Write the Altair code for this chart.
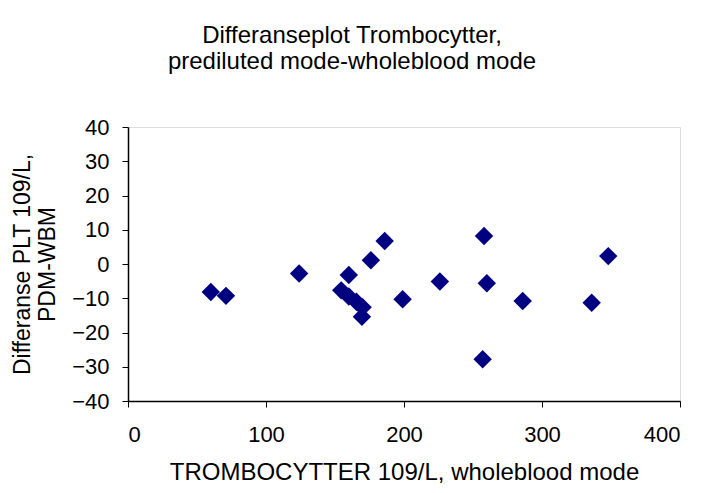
import altair as alt
import pandas as pd

# Values
plt_wbm = [60, 71, 124, 154.5, 160, 160, 165.5, 170, 169.5, 176, 186, 199,
           226, 258, 260, 257, 286, 336, 348]
diff_pdm_wbm = [-8.2, -9.3, -2.8, -7.7, -3.2, -9.5, -11.0, -12.6, -15.4, 1.1, 6.7, -10.3,
                -5.1, 8.2, -5.6, -27.8, -10.8, -11.3, 2.3]
x_ticks = [0, 100, 200, 300, 400]
y_ticks = [-40, -30, -20, -10, 0, 10, 20, 30, 40]

df = pd.DataFrame({"x": plt_wbm, "y": diff_pdm_wbm})

FONT = "Liberation Sans"

points = alt.Chart(df).mark_point(
    shape="diamond", filled=True, size=340, color="#000080", opacity=1
).encode(
    x=alt.X("x:Q",
            scale=alt.Scale(domain=[0, 400], nice=False, zero=False),
            axis=alt.Axis(values=x_ticks, title="TROMBOCYTTER 109/L, wholeblood mode",
                          grid=False, domainColor="#000000", domainWidth=1.5,
                          tickColor="#000000", tickSize=6, labelPadding=17,
                          labelFontSize=22, titleFontSize=24, titlePadding=15,
                          labelFont=FONT, titleFont=FONT, titleFontWeight="normal",
                          labelColor="#000000", titleColor="#000000")),
    y=alt.Y("y:Q",
            scale=alt.Scale(domain=[-40, 40], nice=False, zero=False),
            axis=alt.Axis(values=y_ticks, title=["Differanse PLT 109/L,", "PDM-WBM"],
                          grid=False, domainColor="#000000", domainWidth=1.5,
                          tickColor="#000000", tickSize=6, labelPadding=13,
                          labelFontSize=22, titleFontSize=23, titlePadding=12,
                          titleLineHeight=25,
                          labelFont=FONT, titleFont=FONT, titleFontWeight="normal",
                          labelColor="#000000", titleColor="#000000")),
)

chart = points.properties(
    width=552,
    height=274,
    title=alt.TitleParams(
        ["Differanseplot Trombocytter,", "prediluted mode-wholeblood mode"],
        anchor="middle", frame="group", dx=-52, offset=42,
        font=FONT, fontSize=24, fontWeight="normal", lineHeight=26, color="#000000",
    ),
    autosize=alt.AutoSizeParams(type="none"),
    padding={"left": 120, "top": 119, "right": 14, "bottom": 84},
).configure_view(
    stroke="#808080", strokeWidth=2
).configure(background="#ffffff")

chart.save("out.html", embed_options={"renderer": "svg", "actions": False})
